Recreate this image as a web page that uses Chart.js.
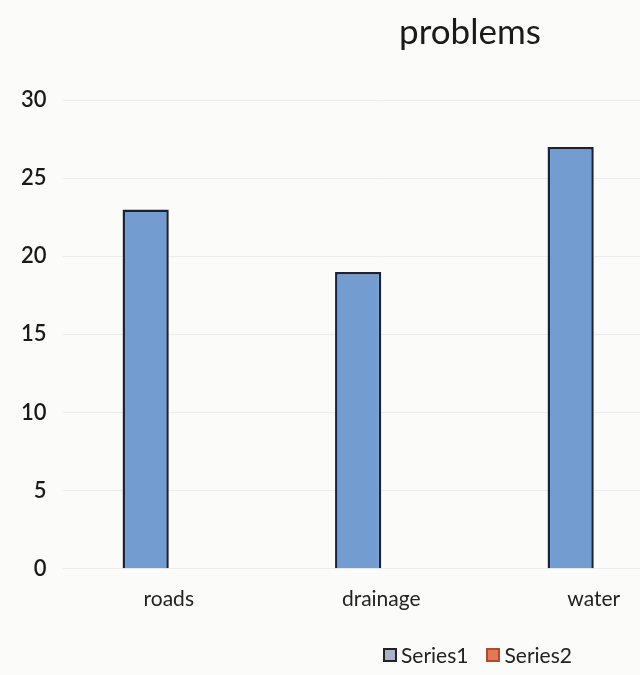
<!DOCTYPE html>
<html>
<head>
<meta charset="utf-8">
<script src="https://cdn.jsdelivr.net/npm/chart.js@4"></script>
<style>
  html, body { margin: 0; padding: 0; background: #fbfbfa; overflow: hidden; }
  #wrap { position: relative; width: 640px; height: 675px; overflow: hidden; }
  #title {
    position: absolute; left: 0; top: 9px; width: 940px; text-align: center;
    font-family: Lato, sans-serif; font-size: 35px; color: #1a1a1a;
  }
  #legend {
    position: absolute; left: 383px; top: 642px;
    font-family: Lato, sans-serif; font-size: 21px; color: #222;
    display: flex; align-items: center;
  }
  #legend span.box {
    display: inline-block; width: 10px; height: 10px; border: 2px solid #333;
    margin-right: 4px;
  }
  #legend span.item { display: flex; align-items: center; margin-right: 18px; }
  canvas { position: absolute; left: 0; top: 0; }
</style>
</head>
<body>
<div id="wrap">
  <canvas id="chart" width="700" height="675"></canvas>
  <div id="title">problems</div>
  <div id="legend"></div>
</div>
<script>
// ---------- Data ----------

const categories = ['roads', 'drainage', 'water'];
const series1 = [23, 19, 27];
const series2 = [null, null, null];
const yTicks = [0, 5, 10, 15, 20, 25, 30];

// ---------- Chart ----------

const ctx = document.getElementById('chart').getContext('2d');

const chart = new Chart(ctx, {
    type: 'bar',
    data: {
        labels: categories,
        datasets: [
            {
                label: 'Series1',
                data: series1,
                backgroundColor: '#739cd0',
                borderColor: '#18223a',
                borderWidth: 2.5,
                legendColor: '#a9b3c8',
                legendBorder: '#222'
            },
            {
                label: 'Series2',
                data: series2,
                backgroundColor: '#e0785a',
                borderColor: '#8a3020',
                borderWidth: 2.5,
                legendColor: '#e0785a',
                legendBorder: '#b04a30'
            }
        ]
    },
    options: {
        responsive: false,
        animation: false,
        layout: {
            padding: { top: 100, left: 5, right: 0, bottom: 45 }
        },
        datasets: {
            bar: {
                categoryPercentage: 0.435,
                barPercentage: 1.0
            }
        },
        plugins: {
            legend: { display: false },
            title: { display: false },
            tooltip: { enabled: false }
        },
        scales: {
            x: {
                grid: { display: false, drawTicks: false },
                border: { display: false },
                ticks: {
                    padding: 18,
                    color: '#222',
                    font: { family: 'Lato', size: 21 }
                }
            },
            y: {
                min: 0,
                max: 30,
                afterBuildTicks: (scale) => {
                    scale.ticks = yTicks.map(v => ({ value: v }));
                },
                grid: { color: '#ececec', drawTicks: false },
                border: { display: false },
                ticks: {
                    padding: 16,
                    color: '#1a1a1a',
                    font: { family: 'Lato', size: 22, weight: '600' }
                }
            }
        }
    }
});

// ---------- Legend ----------

const legend = document.getElementById('legend');
chart.data.datasets.forEach(ds => {
    const item = document.createElement('span');
    item.className = 'item';
    const box = document.createElement('span');
    box.className = 'box';
    box.style.background = ds.legendColor;
    box.style.borderColor = ds.legendBorder;
    item.appendChild(box);
    item.appendChild(document.createTextNode(ds.label));
    legend.appendChild(item);
});
</script>
</body>
</html>
